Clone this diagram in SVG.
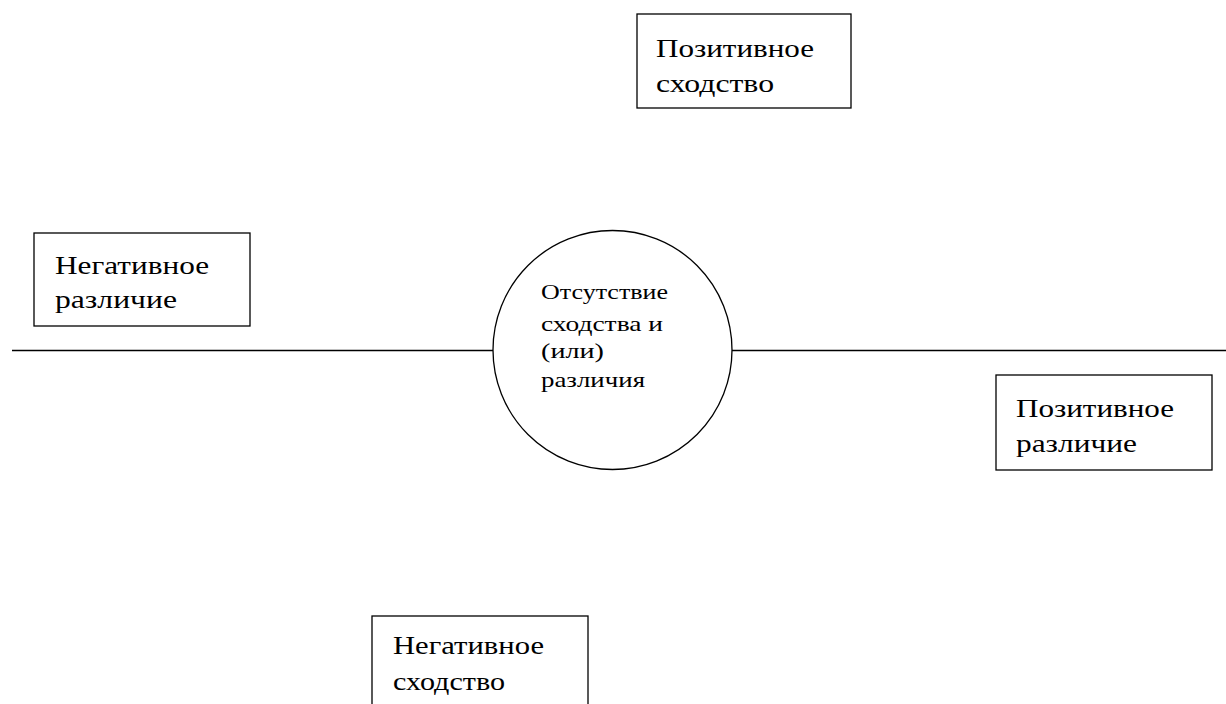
<svg xmlns="http://www.w3.org/2000/svg" width="1226" height="704" viewBox="0 0 1226 704">
<style>
.box{fill:#fff;stroke:#000;stroke-width:1.3}
.line{stroke:#000;stroke-width:1.3;fill:none}
.t{font-family:"Liberation Serif","DejaVu Serif",serif;font-size:26px;fill:#000}
.c{font-family:"Liberation Serif","DejaVu Serif",serif;font-size:22px;fill:#000}
</style>
<rect width="1226" height="704" fill="#fff"/>
<g id="connectors">
<line class="line" x1="12" y1="350.5" x2="493" y2="350.5"/>
<line class="line" x1="732" y1="350.5" x2="1226" y2="350.5"/>
</g>
<g id="center">
<circle class="line" cx="612.5" cy="350" r="119.5"/>
<text class="c" x="541" y="299" textLength="127" lengthAdjust="spacingAndGlyphs">Отсутствие</text>
<text class="c" x="541" y="331" textLength="122" lengthAdjust="spacingAndGlyphs">сходства и</text>
<text class="c" x="541" y="358" textLength="63" lengthAdjust="spacingAndGlyphs">(или)</text>
<text class="c" x="541" y="387" textLength="104" lengthAdjust="spacingAndGlyphs">различия</text>
</g>
<g id="pos-similarity">
<rect class="box" x="637" y="14" width="214" height="94"/>
<text class="t" x="656" y="57" textLength="158" lengthAdjust="spacingAndGlyphs">Позитивное</text>
<text class="t" x="656" y="92" textLength="118" lengthAdjust="spacingAndGlyphs">сходство</text>
</g>
<g id="neg-difference">
<rect class="box" x="34" y="233" width="216" height="93"/>
<text class="t" x="55" y="274" textLength="154" lengthAdjust="spacingAndGlyphs">Негативное</text>
<text class="t" x="55" y="308" textLength="122" lengthAdjust="spacingAndGlyphs">различие</text>
</g>
<g id="pos-difference">
<rect class="box" x="996" y="375" width="216" height="95"/>
<text class="t" x="1016" y="417" textLength="158" lengthAdjust="spacingAndGlyphs">Позитивное</text>
<text class="t" x="1016" y="452" textLength="121" lengthAdjust="spacingAndGlyphs">различие</text>
</g>
<g id="neg-similarity">
<rect class="box" x="372" y="616" width="216" height="100"/>
<text class="t" x="393" y="654" textLength="151" lengthAdjust="spacingAndGlyphs">Негативное</text>
<text class="t" x="393" y="690" textLength="112" lengthAdjust="spacingAndGlyphs">сходство</text>
</g>
</svg>
